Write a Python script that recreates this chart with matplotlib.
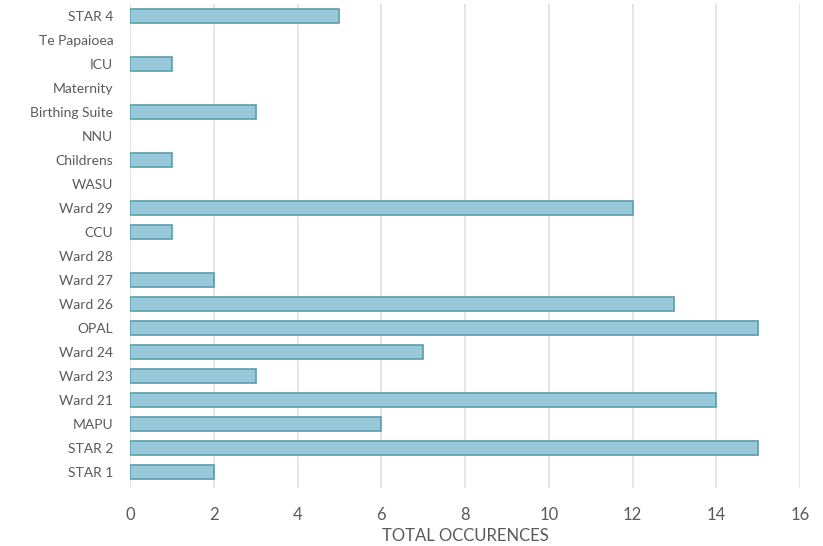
import matplotlib
matplotlib.use("Agg")
import matplotlib.pyplot as plt

plt.rcParams['font.family'] = ['Lato', 'DejaVu Sans']

categories = ["STAR 4", "Te Papaioea", "ICU", "Maternity", "Birthing Suite", "NNU",
              "Childrens", "WASU", "Ward 29", "CCU", "Ward 28", "Ward 27", "Ward 26",
              "OPAL", "Ward 24", "Ward 23", "Ward 21", "MAPU", "STAR 2", "STAR 1"]
occurrences = [5, 0, 1, 0, 3, 0, 1, 0, 12, 1, 0, 2, 13, 15, 7, 3, 14, 6, 15, 2]
x_ticks = [0, 2, 4, 6, 8, 10, 12, 14, 16]

text_color = "#5a5a5a"

fig = plt.figure(figsize=(8.23, 5.46), dpi=100)
ax = fig.add_axes([130 / 823, 1 - 488 / 546, 670 / 823, 484 / 546])

positions = list(range(len(categories)))
# bars with zero count get no outline so they stay invisible
edges = ["#5a9db2" if v > 0 else "none" for v in occurrences]
ax.barh(positions, occurrences, height=0.55, color="#97c9d9",
        edgecolor=edges, linewidth=1.2, zorder=3)

ax.set_xlim(0, 16)
ax.set_ylim(len(categories) - 1 + 0.67, -0.5)
ax.set_xticks(x_ticks)
ax.set_xticklabels([str(t) for t in x_ticks])
ax.set_yticks(positions)
ax.set_yticklabels(categories)

ax.grid(axis="x", color="#dedede", linewidth=1.1, zorder=0)
for s in ax.spines.values():
    s.set_visible(False)

ax.tick_params(axis="y", length=0, pad=12, labelsize=10, labelcolor=text_color)
ax.tick_params(axis="x", length=0, pad=14, labelsize=12, labelcolor=text_color)
ax.set_xlabel("TOTAL OCCURENCES", fontsize=12, color=text_color, labelpad=3)

fig.savefig("out.png", dpi=100)
